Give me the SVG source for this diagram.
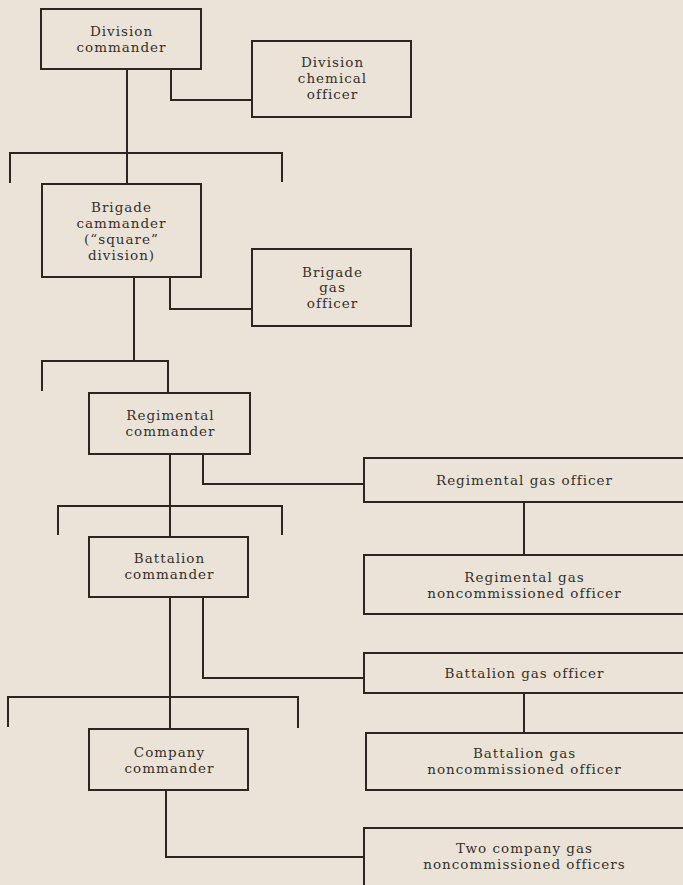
<svg xmlns="http://www.w3.org/2000/svg" width="683" height="885" viewBox="0 0 683 885">
<style>
.box{fill:none;stroke:#2b2622;stroke-width:2}
.ln{fill:none;stroke:#2b2622;stroke-width:2}
text{font-family:"DejaVu Serif","Liberation Serif",serif;font-size:13.5px;letter-spacing:1px;fill:#35302a;text-anchor:middle}
</style>
<rect width="683" height="885" fill="#ebe3d7"/>
<g id="connectors">
<path class="ln" d="M127 69V184M10 183V153H282V182"/>
<path class="ln" d="M171 69V100H252"/>
<path class="ln" d="M134 277V361M42 391V361H168V393"/>
<path class="ln" d="M170 277V309H252"/>
<path class="ln" d="M170 454V537M58 535V506H282V535"/>
<path class="ln" d="M203 454V484H364"/>
<path class="ln" d="M524 502V555"/>
<path class="ln" d="M170 597V729M8 727V697H298V728"/>
<path class="ln" d="M203 597V678H364"/>
<path class="ln" d="M524 693V733"/>
<path class="ln" d="M166 790V857H364"/>
</g>
<g id="division-commander">
<rect class="box" x="41" y="9" width="160" height="60"/>
<text x="121.5" y="36">Division</text>
<text x="121.5" y="52">commander</text>
</g>
<g id="division-chemical-officer">
<rect class="box" x="252" y="41" width="159" height="76"/>
<text x="332.5" y="67">Division</text>
<text x="332.5" y="83">chemical</text>
<text x="332.5" y="99">officer</text>
</g>
<g id="brigade-commander">
<rect class="box" x="42" y="184" width="159" height="93"/>
<text x="121.5" y="212">Brigade</text>
<text x="121.5" y="228">cammander</text>
<text x="121.5" y="244">(“square”</text>
<text x="121.5" y="260">division)</text>
</g>
<g id="brigade-gas-officer">
<rect class="box" x="252" y="249" width="159" height="77"/>
<text x="332.5" y="277">Brigade</text>
<text x="332.5" y="292">gas</text>
<text x="332.5" y="308">officer</text>
</g>
<g id="regimental-commander">
<rect class="box" x="89" y="393" width="161" height="61"/>
<text x="170.5" y="420">Regimental</text>
<text x="170.5" y="436">commander</text>
</g>
<g id="battalion-commander">
<rect class="box" x="89" y="537" width="159" height="60"/>
<text x="169.5" y="563">Battalion</text>
<text x="169.5" y="579">commander</text>
</g>
<g id="company-commander">
<rect class="box" x="89" y="729" width="159" height="61"/>
<text x="169.5" y="757">Company</text>
<text x="169.5" y="773">commander</text>
</g>
<g id="regimental-gas-officer">
<rect class="box" x="364" y="458" width="320" height="44"/>
<text x="524.5" y="485">Regimental gas officer</text>
</g>
<g id="regimental-gas-nco">
<rect class="box" x="364" y="555" width="320" height="59"/>
<text x="524.5" y="582">Regimental gas</text>
<text x="524.5" y="598">noncommissioned officer</text>
</g>
<g id="battalion-gas-officer">
<rect class="box" x="364" y="653" width="320" height="40"/>
<text x="524.5" y="678">Battalion gas officer</text>
</g>
<g id="battalion-gas-nco">
<rect class="box" x="366" y="733" width="318" height="57"/>
<text x="524.5" y="758">Battalion gas</text>
<text x="524.5" y="774">noncommissioned officer</text>
</g>
<g id="company-gas-ncos">
<rect class="box" x="364" y="828" width="320" height="70"/>
<text x="524.5" y="853">Two company gas</text>
<text x="524.5" y="869">noncommissioned officers</text>
</g>
</svg>
